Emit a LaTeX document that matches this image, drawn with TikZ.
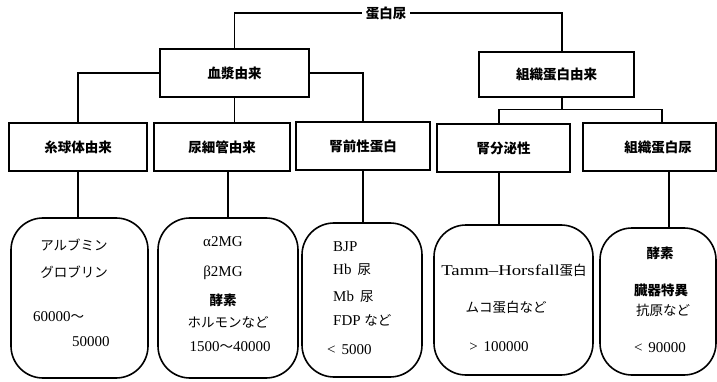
\documentclass[tikz,border=0pt]{standalone}
\usepackage{fontspec}
\setmainfont{Liberation Serif}
\newfontfamily\jp{Noto Sans CJK JP}
\usetikzlibrary{calc}
\newcommand{\hd}{\jp\bfseries\fontsize{13.5}{15}\selectfont}
\newcommand{\jt}{\jp\fontsize{13.5}{15}\selectfont}
\newcommand{\lt}{\fontsize{15}{17}\selectfont}
\begin{document}
\begin{tikzpicture}[x=1pt,y=-1pt,
  hbox/.style={draw,line width=1.5pt,inner sep=0pt,font=\hd},
  rbox/.style={draw,line width=1.6pt,rounded corners=32pt,inner sep=0pt},
  conn/.style={line width=1.5pt},
  jtx/.style={inner sep=0pt,font=\jt},
  jbx/.style={inner sep=0pt,font=\hd},
  ltx/.style={inner sep=0pt,font=\lt}]
\useasboundingbox (0,0) rectangle (717,382);
% top label
\node[font=\hd,inner sep=4pt] (top) at (386,13) {蛋白尿};
% first level
\node[hbox,minimum width=149pt,minimum height=48pt] (plasma) at (234.5,73) {血漿由来};
\node[hbox,minimum width=155pt,minimum height=45pt] (tissue) at (556.5,74.5) {組織蛋白由来};
% second level
\node[hbox,minimum width=138pt,minimum height=48pt] (glom) at (78,147) {糸球体由来};
\node[hbox,minimum width=136pt,minimum height=48pt] (tub) at (222,147) {尿細管由来};
\node[hbox,minimum width=134pt,minimum height=48pt] (prerenal) at (363,146) {腎前性蛋白};
\node[hbox,minimum width=133pt,minimum height=48pt] (sec) at (503.5,148) {腎分泌性};
\node[hbox,minimum width=133pt,minimum height=48pt] (tu) at (649.5,147) {\hspace*{17pt}組織蛋白尿};
% rounded boxes
\node[rbox,minimum width=137pt,minimum height=160pt] (r1) at (79.5,298) {};
\node[rbox,minimum width=140pt,minimum height=160pt] (r2) at (228,298) {};
\node[rbox,minimum width=120pt,minimum height=154pt] (r3) at (362,300) {};
\node[rbox,minimum width=159pt,minimum height=150pt] (r4) at (513.5,300) {};
\node[rbox,minimum width=116pt,minimum height=147pt] (r5) at (658,301.5) {};
% connectors
\draw[conn] (top.west) -| (plasma.north);
\draw[conn] (top.east) -| ($(tissue.north)+(5.5,0)$);
\draw[conn] (plasma.west) -| (glom.north);
\draw[conn] (plasma.east) -| (prerenal.north);
\draw[conn] (plasma.south) -- (plasma.south |- tub.north);
\coordinate (tb) at ($(tissue.south)+(5.5,12)$);
\draw[conn] ($(tissue.south)+(5.5,0)$) -- (tb);
\draw[conn] ($(sec.north)+(-4.5,0)$) |- (tb) -| ($(tu.north)+(12.5,0)$);
\draw[conn] (glom.south) -- (glom.south |- r1.north);
\draw[conn] (r2.north) -- (r2.north |- tub.south);
\draw[conn] (prerenal.south) -- (prerenal.south |- r3.north);
\draw[conn] ($(sec.south)+(-4.5,0)$) coordinate (t4) -- (t4 |- r4.north);
\draw[conn] ($(tu.south)+(19.5,0)$) coordinate (t5) -- (t5 |- r5.north);
% texts box 1
\node[jtx] (a1) at (74,245) {アルブミン};
\node[jtx] (a2) at (74,272) {グロブリン};
\node[ltx,anchor=west] (a3) at (33,317) {60000{\jt ～}};
\node[ltx,anchor=west] (a4) at (72,342) {50000};
% texts box 2
\node[ltx] (b1) at (223,242) {α2MG};
\node[ltx] (b2) at (223,273) {β2MG};
\node[jbx] (b3) at (223,300) {酵素};
\node[jtx] (b4) at (228,322) {ホルモンなど};
\node[ltx] (b5) at (230,347) {1500{\jt ～}40000};
% texts box 3
\node[ltx,anchor=west] (c1) at (333,247) {BJP};
\node[ltx,anchor=west] (c2) at (333,270) {Hb\hspace{6pt}{\jt 尿}};
\node[ltx,anchor=west] (c3) at (333,297) {Mb\hspace{6pt}{\jt 尿}};
\node[ltx,anchor=west] (c4) at (333,320) {FDP {\jt など}};
\node[ltx,anchor=west] (c5) at (327,350) {<\hspace{6pt}5000};
% texts box 4
\node[ltx] (d1) at (514,270) {\scalebox{1.25}[1]{Tamm–Horsfall}{\jt 蛋白}};
\node[jtx] (d2) at (506,307) {ムコ蛋白など};
\node[ltx] (d3) at (499,347) {>\hspace{6pt}100000};
% texts box 5
\node[jbx] (e1) at (660,253) {酵素};
\node[jbx] (e2) at (661,290) {臓器特異};
\node[jtx] (e3) at (663,310) {抗原など};
\node[ltx] (e4) at (660,348) {<\hspace{6pt}90000};
\end{tikzpicture}
\end{document}
